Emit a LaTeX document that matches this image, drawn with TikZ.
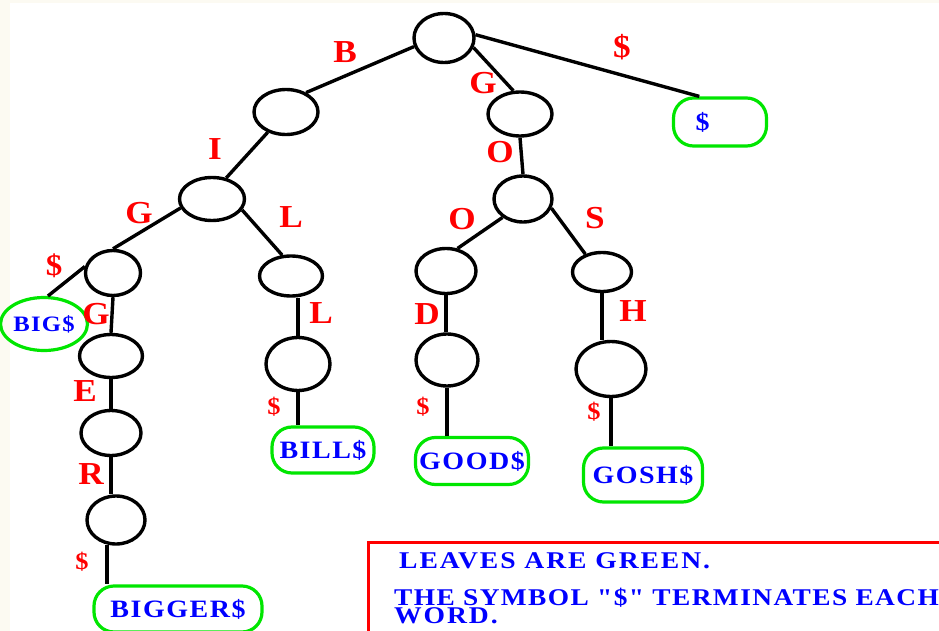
\documentclass[tikz,border=0pt]{standalone}
\usepackage{fontspec}
\setmainfont{Liberation Serif}
\newfontfamily\leaffont[LetterSpace=6, FakeStretch=1.12]{Liberation Serif}
\newfontfamily\notefont[LetterSpace=8, FakeStretch=1.15]{Liberation Serif}
\newfontfamily\notetightfont[LetterSpace=6, FakeStretch=1.14]{Liberation Serif}
\newfontfamily\markfont[FakeStretch=1.1]{Liberation Serif}
\usetikzlibrary{shapes.geometric}
\definecolor{leafgreen}{RGB}{0,230,0}
\definecolor{edgecream}{RGB}{252,250,242}
\tikzset{
	knot/.style={draw=black, line width=3.4pt, ellipse, inner sep=0pt},
	leaf/.style={draw=leafgreen, line width=3.2pt, rectangle, rounded corners=20pt, inner sep=0pt, text=blue, font=\leaffont\bfseries\fontsize{25}{25}\selectfont},
	leafround/.style={draw=leafgreen, line width=3.2pt, ellipse, inner sep=0pt, text=blue, font=\leaffont\bfseries\fontsize{22}{22}\selectfont},
	letter/.style={text=red, inner sep=0pt, font=\markfont\bfseries\fontsize{32}{32}\selectfont},
	endmark/.style={letter, font=\markfont\bfseries\fontsize{24}{24}\selectfont},
	branch/.style={line width=3.4pt},
	note/.style={text=blue, inner sep=0pt, anchor=base west, font=\notefont\bfseries\fontsize{24}{24}\selectfont}
}

\begin{document}
\begin{tikzpicture}[x=1pt, y=-1pt]
		%%%%% START %%%%%
		\useasboundingbox (0,0) rectangle (939,631);
		\clip (0,0) rectangle (939,631);
		\fill[edgecream] (0,0) rectangle (939,631);
		\fill[white] (10,3) rectangle (939,631);
		
		% inner nodes
		\node[knot, minimum width=60pt, minimum height=49pt] (root) at (444,38) {};
		\node[knot, minimum width=64pt, minimum height=45pt] (b) at (286,112) {};
		\node[knot, minimum width=65pt, minimum height=43pt] (bi) at (212,199) {};
		\node[knot, minimum width=55pt, minimum height=45pt] (big) at (113,273) {};
		\node[knot, minimum width=63pt, minimum height=40pt] (bil) at (291,276) {};
		\node[knot, minimum width=63pt, minimum height=43pt] (bigg) at (111,356) {};
		\node[knot, minimum width=60pt, minimum height=45pt] (bigge) at (111,433) {};
		\node[knot, minimum width=58pt, minimum height=48pt] (bigger) at (116,520) {};
		\node[knot, minimum width=64pt, minimum height=53pt] (bill) at (298,364) {};
		\node[knot, minimum width=64pt, minimum height=44pt] (g) at (520,114) {};
		\node[knot, minimum width=58pt, minimum height=46pt] (go) at (523,199) {};
		\node[knot, minimum width=60pt, minimum height=45pt] (goo) at (446,271) {};
		\node[knot, minimum width=62pt, minimum height=52pt] (good) at (447,360) {};
		\node[knot, minimum width=59pt, minimum height=39pt] (gos) at (602,272) {};
		\node[knot, minimum width=70pt, minimum height=55pt] (gosh) at (611,369) {};
		
		% leaves
		\node[leafround, minimum width=63pt, minimum height=53pt] (lfbig) at (44,324) {BIG\$};
		\node[leaf, minimum width=168pt, minimum height=46pt] (lfbigger) at (178,609) {BIGGER\$};
		\node[leaf, minimum width=102pt, minimum height=46pt] (lfbill) at (323,450) {BILL\$};
		\node[leaf, minimum width=113pt, minimum height=47pt] (lfgood) at (472,461) {GOOD\$};
		\node[leaf, minimum width=119pt, minimum height=54pt] (lfgosh) at (643,475) {GOSH\$};
		\node[leaf, minimum height=48pt, inner xsep=22pt, text width=49pt, align=left] (lfend) at (720,122) {\$};
		
		% branches
		\draw[branch] (root.196) -- (b.44);
		\draw[branch] (b.228) -- (bi.56);
		\draw[branch] (bi.196) -- (big.north);
		\draw[branch] (bi.340) -- (bil.113);
		\draw[branch] (big.167) -- (lfbig.82);
		\draw[branch] (big.south) -- (bigg.north);
		\draw[branch] (bigg.south) -- (bigge.north);
		\draw[branch] (bigge.south) -- (bigge.south |- bigger.north);
		\draw[branch] (bigger.250) -- (bigger.250 |- lfbigger.north);
		\draw[branch] (bil.south -| bill.north) -- (bill.north);
		\draw[branch] (bill.south) -- (bill.south |- lfbill.north);
		\draw[branch] (root.342) -- (g.106);
		\draw[branch] (root.6) -- (lfend.129);
		\draw[branch] (g.south) -- (go.north);
		\draw[branch] (go.222) -- (goo.63);
		\draw[branch] (go.342) -- (gos.133);
		\draw[branch] (goo.south) -- (goo.south |- good.north);
		\draw[branch] (good.south) -- (good.south |- lfgood.north);
		\draw[branch] (gos.south) -- (gos.south |- gosh.north);
		\draw[branch] (gosh.south) -- (gosh.south |- lfgosh.north);
		
		% letters on the branches
		\node[letter] (lb) at (345,52) {B};
		\node[letter] (li) at (215,149) {I};
		\node[letter] (lg) at (139,213) {G};
		\node[letter] (ll) at (291,217) {L};
		\node[letter, font=\markfont\bfseries\fontsize{30}{30}\selectfont] (lbigend) at (54,266) {\$};
		\node[letter] (lgg) at (96,314) {G};
		\node[letter] (lll) at (321,313) {L};
		\node[letter] (le) at (85,391) {E};
		\node[letter] (lr) at (91,474) {R};
		\node[endmark] (lbiggerend) at (82,562) {\$};
		\node[endmark] (lbillend) at (274,407) {\$};
		\node[letter] (lgo) at (483,83) {G};
		\node[letter] (lo) at (500,152) {O};
		\node[letter] (lend) at (622,47) {\$};
		\node[letter] (loo) at (462,219) {O};
		\node[letter] (ls) at (595,218) {S};
		\node[letter] (ld) at (427,314) {D};
		\node[endmark] (lgoodend) at (423,407) {\$};
		\node[letter] (lh) at (633,311) {H};
		\node[endmark] (lgoshend) at (594,412) {\$};
		
		% legend
		\draw[line width=3pt, red] (368,542) rectangle (960,660);
		\node[note] (note1) at (399,568) {LEAVES ARE GREEN.};
		\node[note, font=\notetightfont\bfseries\fontsize{24}{24}\selectfont] (note2) at (394,605) {THE SYMBOL "\$" TERMINATES EACH};
		\node[note] (note3) at (394,623) {WORD.};
		
		%%%%% END %%%%%
\end{tikzpicture}
\end{document}
